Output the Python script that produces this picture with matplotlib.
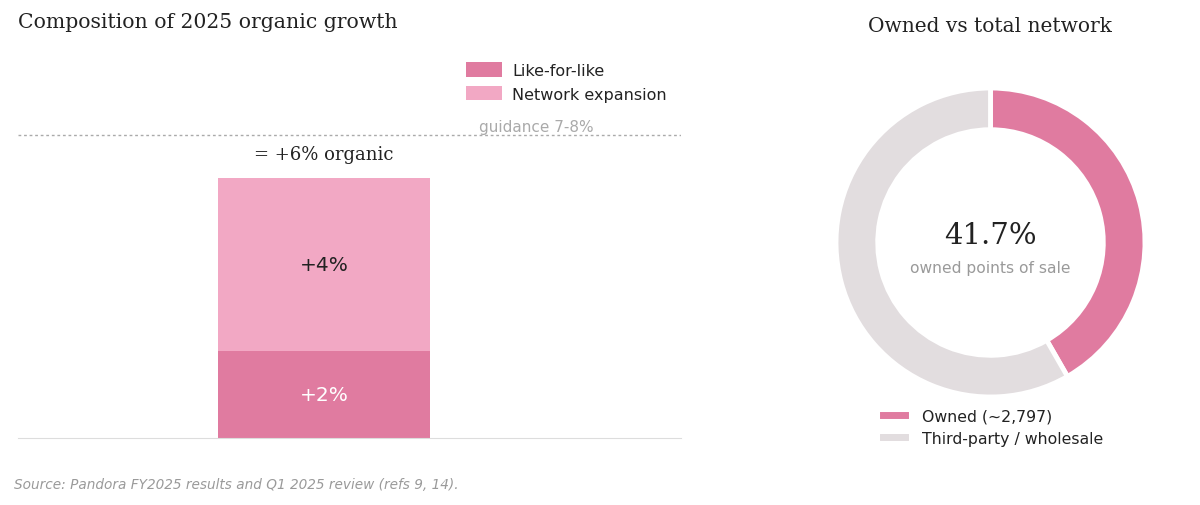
import matplotlib
matplotlib.use("Agg")
import matplotlib.pyplot as plt
from matplotlib.lines import Line2D

# ---- data ----
bar_category = ["2025"]
lfl_values = [2]            # Like-for-like, %
network_values = [4]        # Network expansion, %
guidance_low = 7
guidance_label = "guidance 7-8%"
total_label = "= +6% organic"

donut_labels = ["Owned (~2,797)", "Third-party / wholesale"]
donut_values = [41.7, 58.3]
center_value = "41.7%"
center_sub = "owned points of sale"

C_LFL = "#E07BA0"
C_NET = "#F2A8C4"
C_3P = "#E2DDDF"
GREY = "#9a9a9a"
DARK = "#222222"

fig = plt.figure(figsize=(12, 5.06), dpi=100)

# ---- left: stacked bar ----
ax = fig.add_axes([18/1200, 1-439/506, 663/1200, 390/506])
x = [0]
ax.bar(x, lfl_values, width=0.5, color=C_LFL, label="Like-for-like")
ax.bar(x, network_values, width=0.5, bottom=lfl_values, color=C_NET, label="Network expansion")
ax.set_xlim(-0.72, 0.84)
ax.set_ylim(0, 9)
for s in ["top", "right", "left"]:
    ax.spines[s].set_visible(False)
ax.spines["bottom"].set_color("#dddddd")
ax.set_xticks([])
ax.set_yticks([])
ax.axhline(guidance_low, color="#aaaaaa", linestyle=(0, (2, 2)), linewidth=1)
ax.text(0.5, guidance_low + 0.02, guidance_label, ha="center", va="bottom",
        color="#aaaaaa", fontsize=11)
total = lfl_values[0] + network_values[0]
ax.text(0, total + 0.35, total_label, ha="center", va="bottom",
        family="DejaVu Serif", fontsize=13, color=DARK)
ax.text(0, lfl_values[0] + network_values[0] / 2, f"+{network_values[0]}%",
        ha="center", va="center", fontsize=14.5, color=DARK)
ax.text(0, lfl_values[0] / 2, f"+{lfl_values[0]}%",
        ha="center", va="center", fontsize=14.5, color="white")
leg = ax.legend(loc="upper right", bbox_to_anchor=(1.0, 1.0), frameon=False,
                fontsize=11.5, handlelength=2.3, handleheight=1.0, labelspacing=0.5,
                handletextpad=0.6)
for t in leg.get_texts():
    t.set_color(DARK)

fig.text(18/1200, 1-22/506, "Composition of 2025 organic growth",
         family="DejaVu Serif", fontsize=14.7, color=DARK, ha="left", va="center")
fig.text(14/1200, 1-485/506,
         "Source: Pandora FY2025 results and Q1 2025 review (refs 9, 14).",
         fontsize=9.85, style="italic", color=GREY, ha="left", va="center")

# ---- right: donut ----
ax2 = fig.add_axes([836/1200, 1-398/506, 309/1200, 309/506])
ax2.pie(donut_values, colors=[C_LFL, C_3P], startangle=90, counterclock=False,
        radius=1, wedgeprops=dict(width=0.27, edgecolor="white", linewidth=3.5))
ax2.set_xlim(-1, 1)
ax2.set_ylim(-1, 1)
ax2.text(0, 0.05, center_value, ha="center", va="center",
         family="DejaVu Serif", fontsize=21, color=DARK)
ax2.text(0, -0.16, center_sub, ha="center", va="center", fontsize=11.2, color=GREY)

fig.text(990/1200, 1-27/506, "Owned vs total network", family="DejaVu Serif",
         fontsize=14.5, color=DARK, ha="center", va="center")
handles = [Line2D([0], [0], color=C_LFL, linewidth=5),
           Line2D([0], [0], color=C_3P, linewidth=5)]
leg2 = fig.legend(handles, donut_labels, loc="upper left",
                  bbox_to_anchor=(869/1200, 1-395/506), frameon=False,
                  fontsize=11.3, handlelength=1.4, handletextpad=1.1, labelspacing=0.5)
for t in leg2.get_texts():
    t.set_color(DARK)

fig.savefig("out.png", dpi=100, facecolor="white")
